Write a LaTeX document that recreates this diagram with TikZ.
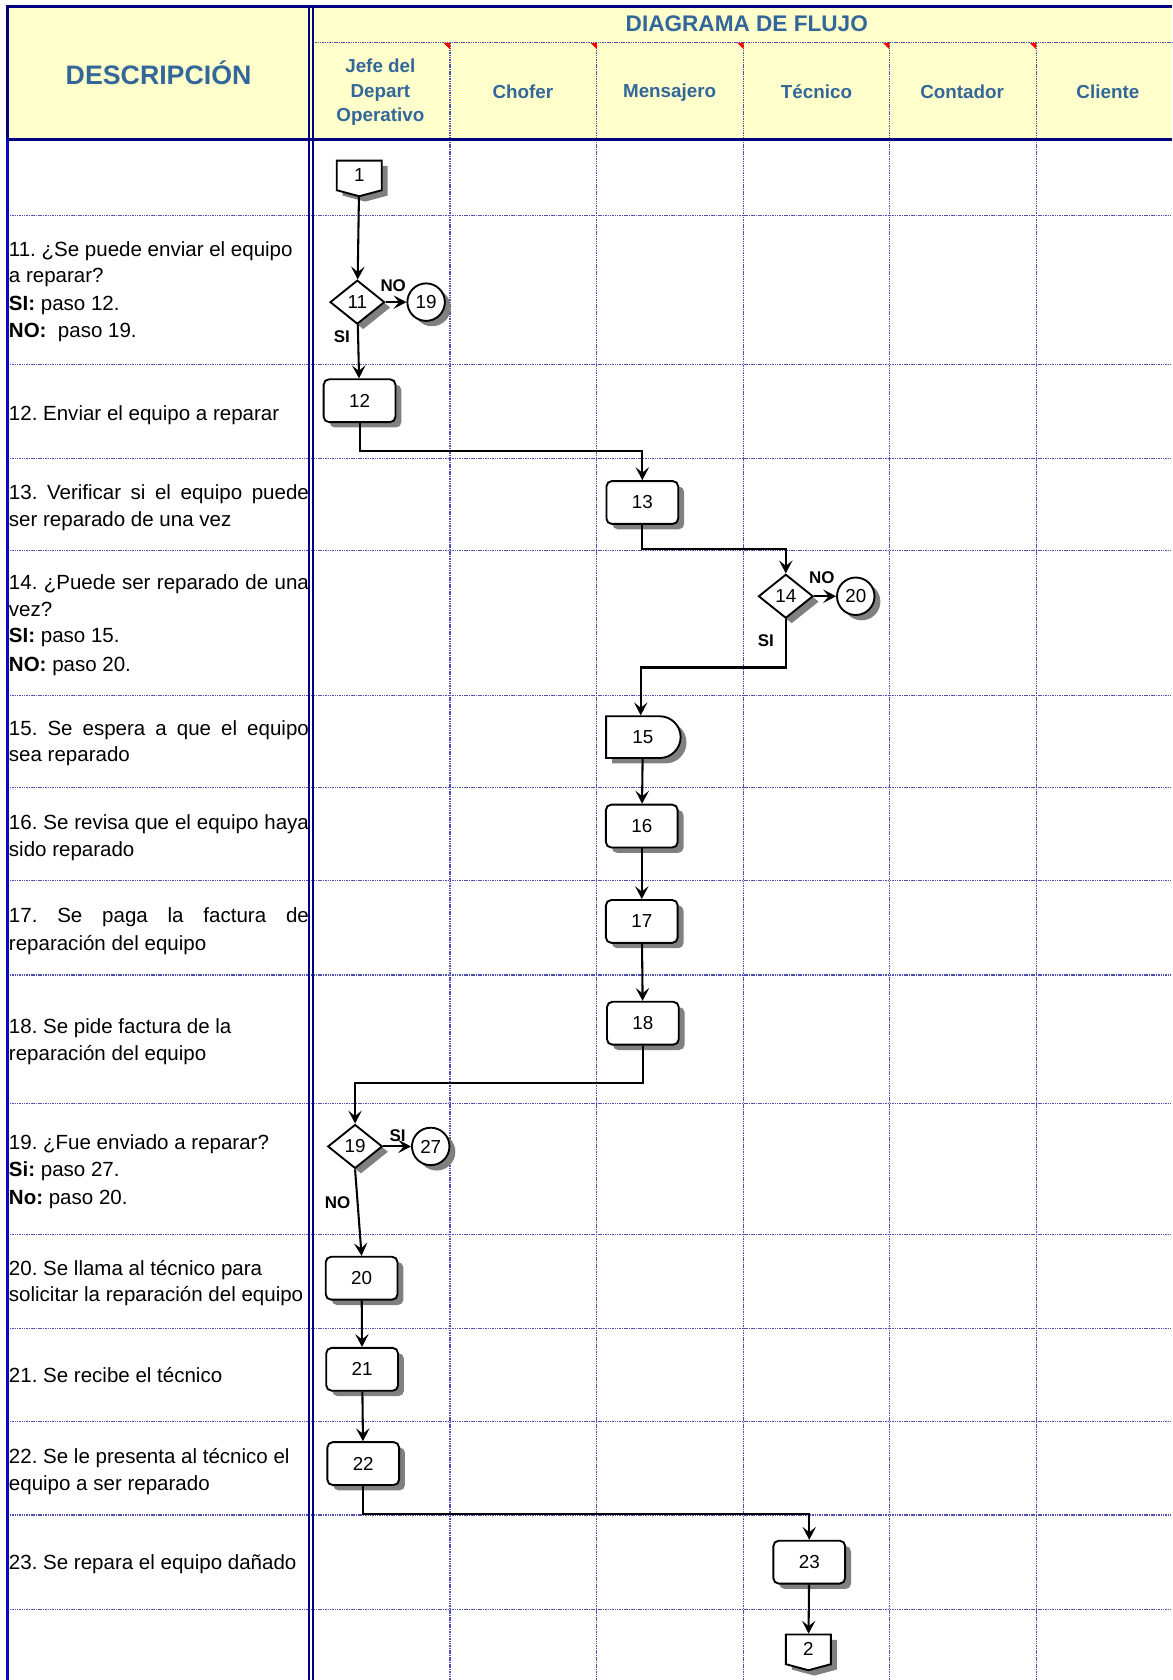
\documentclass[tikz,border=0pt]{standalone}
\usepackage{fontspec}
\setmainfont{Liberation Sans}
\usetikzlibrary{arrows.meta,positioning,shapes.geometric,shapes.symbols,shapes.misc,shadows}

\definecolor{hdrfill}{RGB}{255,255,204}
\definecolor{hdrtext}{RGB}{51,102,153}
\definecolor{navy}{RGB}{0,0,128}
\definecolor{framblue}{RGB}{10,10,190}
\definecolor{gridblue}{RGB}{80,80,175}
\definecolor{shadowgray}{RGB}{128,128,128}

% justified description line
\newcommand{\jline}[1]{\makebox[5.6cm][s]{#1}}

\tikzset{
	grid line/.style = {draw=gridblue, line width=0.6pt, dash pattern=on 0.8pt off 0.45pt},
	border/.style = {draw=navy, line width=1.6pt},
	head/.style = {font=\bfseries\fontsize{10}{13}\selectfont, text=hdrtext, align=center, inner sep=0pt},
	desc/.style = {anchor=base west, inner sep=0pt, font=\fontsize{10.9}{13}\selectfont},
	shadowed/.style = {drop shadow={shadow xshift=1.1mm, shadow yshift=-1mm, fill=shadowgray, opacity=1}},
	shape base/.style = {draw, line width=1pt, fill=white, inner sep=0pt, shadowed, font=\fontsize{10}{11}\selectfont},
	stepbox/.style = {shape base, rectangle, rounded corners=1mm, minimum width=1.34cm, minimum height=0.8cm},
	decision/.style = {shape base, diamond, minimum width=1.02cm, minimum height=0.82cm},
	jump/.style = {shape base, circle, minimum size=0.7cm},
	offpage/.style = {shape base, signal, signal to=south, signal pointer angle=150, minimum width=0.84cm, minimum height=0.58cm},
	waitbox/.style = {shape base, rounded rectangle, rounded rectangle west arc=none, minimum width=1.39cm, minimum height=0.78cm},
	flow/.style = {-{Stealth[length=2.4mm,width=2.5mm,inset=1mm]}, line width=1.1pt},
	answer/.style = {font=\bfseries\fontsize{9}{10}\selectfont, inner sep=0pt}
}

\begin{document}
\frenchspacing
\begin{tikzpicture}[x=0.02cm, y=-0.02cm]
	\useasboundingbox (0,0) rectangle (1094,1568);
	\fill[white] (0,0) rectangle (1094,1568);

	% header band
	\fill[hdrfill] (7,6) rectangle (1094,130);
	\draw[grid line] (292,40) -- (1094,40);
	\foreach \x in {420,557,694,830,967}{
		\draw[grid line] (\x,40) -- (\x,1568);
		\fill[red] (\x,40) -- ++(-6,0) -- ++(6,6) -- cycle;
	}
	\foreach \y in {201,340,428,514,649,735,822,910,1030,1152,1240,1327,1414,1502}
		\draw[grid line] (7,\y) -- (1094,\y);

	% frame
	\draw[border, framblue] (7,1568) -- (7,130);
	\draw[border] (7,130) -- (7,6) -- (1094,6);
	\draw[border] (7,130) -- (1094,130);
	\draw[navy, line width=1pt] (288.5,6) -- (288.5,1568);
	\draw[navy, line width=1pt] (292,6) -- (292,1568);

	% titles
	\node[head, font=\bfseries\fontsize{14.2}{16}\selectfont] (desctitle) at (148,68) {DESCRIPCIÓN};
	\node[head, font=\bfseries\fontsize{12}{14}\selectfont] (flowtitle) at (697,22) {DIAGRAMA DE FLUJO};
	\node[head] (jefe) at (355,86) {Jefe del\\Depart\\Operativo};
	\foreach \x/\who in {488/Chofer, 625/Mensajero, 762/Técnico, 898/Contador, 1034/Cliente}
		\node[head] (\who) at (\x,86) {\who};

	% step descriptions
	\foreach \y/\txt in {
		239/{11. ¿Se puede enviar el equipo},
		264/{a reparar?},
		290/{\textbf{SI:} paso 12.},
		315/{\textbf{NO:}\ \ paso 19.},
		392/{12. Enviar el equipo a reparar},
		466/{\jline{13. Verificar si el equipo puede}},
		491/{ser reparado de una vez},
		550/{\jline{14. ¿Puede ser reparado de una}},
		575/{vez?},
		600/{\textbf{SI:} paso 15.},
		627/{\textbf{NO:} paso 20.},
		686/{\jline{15. Se espera a que el equipo}},
		711/{sea reparado},
		774/{\jline{16. Se revisa que el equipo haya}},
		799/{sido reparado},
		861/{\jline{17. Se paga la factura de}},
		887/{reparación del equipo},
		965/{18. Se pide factura de la},
		990/{reparación del equipo},
		1073/{19. ¿Fue enviado a reparar?},
		1098/{\textbf{Si:} paso 27.},
		1124/{\textbf{No:} paso 20.},
		1190/{20. Se llama al técnico para},
		1215/{solicitar la reparación del equipo},
		1290/{21. Se recibe el técnico},
		1366/{22. Se le presenta al técnico el},
		1391/{equipo a ser reparado},
		1465/{23. Se repara el equipo dañado}}
		\node[desc] (t\y) at (8,\y) {\txt};

	% flow shapes
	\node[offpage] (c1) at (335.3,163.7) {1};
	\node[decision] (d11) at (333.5,282) {11};
	\node[jump] (c19) at (397.7,282) {19};
	\node[stepbox] (b12) at (335.6,374) {12};
	\node[stepbox] (b13) at (599.5,469) {13};
	\node[decision] (d14) at (733.4,556.5) {14};
	\node[jump] (c20) at (798.7,556.5) {20};
	\node[waitbox] (p15) at (600,688) {15};
	\node[stepbox] (b16) at (599,771) {16};
	\node[stepbox] (b17) at (599,860) {17};
	\node[stepbox] (b18) at (600,955) {18};
	\node[decision] (d19) at (331.4,1070) {19};
	\node[jump] (c27) at (402,1070) {27};
	\node[stepbox] (b20) at (337.5,1193) {20};
	\node[stepbox] (b21) at (338,1278) {21};
	\node[stepbox] (b22) at (339,1366) {22};
	\node[stepbox] (b23) at (755.3,1458) {23};
	\node[offpage] (c2) at (754.5,1539.4) {2};

	% bend heights
	\coordinate (k12) at (0,421);
	\coordinate (k13) at (0,512);
	\coordinate (k14) at (0,623);
	\coordinate (k18) at (0,1011);
	\coordinate (k22) at (0,1413);

	% connectors
	\draw[flow] (c1) -- (d11);
	\draw[flow] (d11) -- (c19);
	\draw[flow] (d11) -- (b12);
	\draw[flow] (b12.south) -- (b12.south |- k12) -| (b13.north);
	\draw[flow] (b13.south) -- (b13.south |- k13) -| (d14.north);
	\draw[flow] (d14) -- (c20);
	\draw[flow] (d14.south) -- (d14.south |- k14) -| ([xshift=-0.04cm]p15.north);
	\draw[flow] (p15) -- (b16);
	\draw[flow] (b16) -- (b17);
	\draw[flow] (b17) -- (b18);
	\draw[flow] (b18.south) -- (b18.south |- k18) -| (d19.north);
	\draw[flow] (d19) -- (c27);
	\draw[flow] (d19.south) -- (b20.north);
	\draw[flow] (b20) -- (b21);
	\draw[flow] (b21) -- (b22);
	\draw[flow] (b22.south) -- (b22.south |- k22) -| (b23.north);
	\draw[flow] (b23) -- (c2);

	% answers
	\node[answer] (no11) at (367,267) {NO};
	\node[answer] (si11) at (319,314) {SI};
	\node[answer] (no14) at (767,539) {NO};
	\node[answer] (si14) at (714.7,598) {SI};
	\node[answer] (si19) at (371,1059.5) {SI};
	\node[answer] (no19) at (315,1122.6) {NO};
\end{tikzpicture}
\end{document}
